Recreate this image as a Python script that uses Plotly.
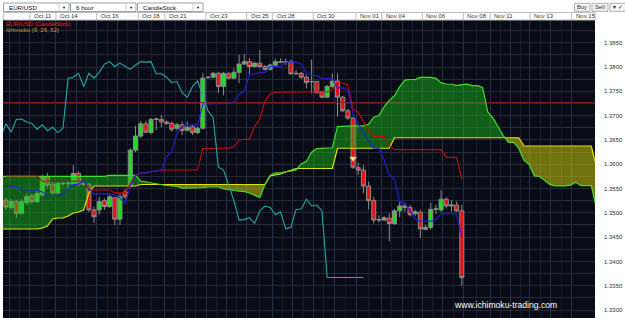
import plotly.graph_objects as go

# ---------------- data ----------------
opens = [1.3526, 1.3511, 1.3523, 1.3499, 1.3521, 1.3535, 1.3523, 1.3537, 1.3574, 1.3559,
         1.3541, 1.3561, 1.3560, 1.3559, 1.3581, 1.3559, 1.3559, 1.3506, 1.3506, 1.3525,
         1.3513, 1.3531, 1.3487, 1.3543, 1.3554, 1.3629, 1.3658, 1.3683, 1.3665, 1.3692,
         1.3692, 1.3687, 1.3684, 1.3674, 1.3681, 1.3670, 1.3677, 1.3665, 1.3674, 1.3778,
         1.3779, 1.3787, 1.3760, 1.3786, 1.3777, 1.3789, 1.3806, 1.3811, 1.3801, 1.3808,
         1.3801, 1.3795, 1.3804, 1.3811, 1.3810, 1.3811, 1.3787, 1.3787, 1.3779, 1.3770,
         1.3770, 1.3749, 1.3738, 1.3760, 1.3771, 1.3738, 1.3710, 1.3695, 1.3593, 1.3588,
         1.3555, 1.3525, 1.3485, 1.3485, 1.3489, 1.3478, 1.3504, 1.3514, 1.3511, 1.3498,
         1.3501, 1.3466, 1.3470, 1.3507, 1.3506, 1.3528, 1.3514, 1.3516, 1.3504]
highs = [1.3531, 1.3528, 1.3526, 1.3528, 1.3539, 1.3539, 1.3547, 1.3578, 1.3582, 1.3564,
         1.3563, 1.3564, 1.3566, 1.3598, 1.3585, 1.3563, 1.3561, 1.3513, 1.3533, 1.3530,
         1.3537, 1.3533, 1.3540, 1.3549, 1.3633, 1.3679, 1.3689, 1.3689, 1.3695, 1.3696,
         1.3701, 1.3690, 1.3688, 1.3685, 1.3688, 1.3688, 1.3681, 1.3677, 1.3788, 1.3780,
         1.3790, 1.3790, 1.3790, 1.3790, 1.3797, 1.3825, 1.3827, 1.3818, 1.3810, 1.3835,
         1.3804, 1.3807, 1.3817, 1.3818, 1.3818, 1.3815, 1.3794, 1.3790, 1.3784, 1.3815,
         1.3772, 1.3751, 1.3763, 1.3787, 1.3787, 1.3740, 1.3714, 1.3697, 1.3603, 1.3598,
         1.3564, 1.3533, 1.3495, 1.3493, 1.3499, 1.3508, 1.3524, 1.3520, 1.3516, 1.3506,
         1.3506, 1.3475, 1.3521, 1.3516, 1.3547, 1.3532, 1.3526, 1.3523, 1.3516]
lows = [1.3506, 1.3506, 1.3489, 1.3496, 1.3516, 1.3518, 1.3520, 1.3533, 1.3553, 1.3537,
        1.3539, 1.3554, 1.3550, 1.3557, 1.3554, 1.3555, 1.3502, 1.3479, 1.3496, 1.3506,
        1.3510, 1.3475, 1.3475, 1.3528, 1.3551, 1.3625, 1.3654, 1.3664, 1.3662, 1.3670,
        1.3676, 1.3681, 1.3667, 1.3670, 1.3660, 1.3667, 1.3660, 1.3662, 1.3672, 1.3776,
        1.3777, 1.3746, 1.3742, 1.3775, 1.3775, 1.3767, 1.3804, 1.3784, 1.3799, 1.3797,
        1.3793, 1.3793, 1.3802, 1.3808, 1.3804, 1.3784, 1.3785, 1.3776, 1.3756, 1.3746,
        1.3745, 1.3736, 1.3736, 1.3757, 1.3698, 1.3707, 1.3691, 1.3590, 1.3578, 1.3540,
        1.3507, 1.3478, 1.3480, 1.3483, 1.3441, 1.3475, 1.3491, 1.3502, 1.3493, 1.3494,
        1.3448, 1.3465, 1.3465, 1.3498, 1.3502, 1.3509, 1.3502, 1.3502, 1.3350]
closes = [1.3512, 1.3523, 1.3499, 1.3523, 1.3533, 1.3523, 1.3540, 1.3574, 1.3557, 1.3541,
          1.3561, 1.3560, 1.3561, 1.3581, 1.3559, 1.3560, 1.3506, 1.3492, 1.3523, 1.3513,
          1.3533, 1.3487, 1.3533, 1.3533, 1.3629, 1.3658, 1.3683, 1.3666, 1.3692, 1.3693,
          1.3687, 1.3684, 1.3672, 1.3681, 1.3669, 1.3676, 1.3665, 1.3674, 1.3777, 1.3779,
          1.3787, 1.3760, 1.3787, 1.3777, 1.3789, 1.3806, 1.3811, 1.3801, 1.3808, 1.3801,
          1.3795, 1.3804, 1.3811, 1.3810, 1.3811, 1.3786, 1.3786, 1.3779, 1.3768, 1.3770,
          1.3747, 1.3738, 1.3760, 1.3771, 1.3738, 1.3710, 1.3695, 1.3594, 1.3588, 1.3555,
          1.3525, 1.3485, 1.3486, 1.3490, 1.3478, 1.3504, 1.3514, 1.3511, 1.3496, 1.3502,
          1.3467, 1.3470, 1.3507, 1.3508, 1.3528, 1.3514, 1.3516, 1.3504, 1.3367]

tenkan = [1.3557, 1.3555, 1.3553, 1.3549, 1.3547, 1.3547, 1.3547, 1.3543, 1.3535, 1.3535,
          1.3535, 1.3539, 1.3549, 1.3558, 1.3559, 1.3566, 1.3550, 1.3539, 1.3539, 1.3539,
          1.3539, 1.3537, 1.3530, 1.3519, 1.3554, 1.3577, 1.3582, 1.3582, 1.3585, 1.3586,
          1.3588, 1.3615, 1.3626, 1.3663, 1.3678, 1.3681, 1.3681, 1.3681, 1.3724, 1.3724,
          1.3725, 1.3725, 1.3725, 1.3725, 1.3729, 1.3744, 1.3750, 1.3785, 1.3785, 1.3789,
          1.3789, 1.3801, 1.3801, 1.3801, 1.3810, 1.3810, 1.3810, 1.3806, 1.3787, 1.3783,
          1.3782, 1.3777, 1.3777, 1.3776, 1.3757, 1.3757, 1.3753, 1.3703, 1.3683, 1.3664,
          1.3647, 1.3633, 1.3633, 1.3609, 1.3578, 1.3569, 1.3522, 1.3520, 1.3503, 1.3487,
          1.3483, 1.3483, 1.3483, 1.3486, 1.3498, 1.3498, 1.3498, 1.3498, 1.3449]
kijun = [1.3576, 1.3576, 1.3576, 1.3576, 1.3576, 1.3576, 1.3576, 1.3565, 1.3565, 1.3565,
         1.3565, 1.3565, 1.3565, 1.3565, 1.3565, 1.3565, 1.3547, 1.3547, 1.3547, 1.3547,
         1.3547, 1.3541, 1.3541, 1.3541, 1.3560, 1.3577, 1.3582, 1.3582, 1.3585, 1.3586,
         1.3588, 1.3588, 1.3588, 1.3588, 1.3588, 1.3588, 1.3588, 1.3588, 1.3632, 1.3632,
         1.3633, 1.3633, 1.3633, 1.3633, 1.3636, 1.3650, 1.3651, 1.3651, 1.3678, 1.3693,
         1.3730, 1.3745, 1.3748, 1.3748, 1.3748, 1.3748, 1.3748, 1.3748, 1.3748, 1.3748,
         1.3748, 1.3748, 1.3749, 1.3754, 1.3767, 1.3767, 1.3763, 1.3713, 1.3707, 1.3688,
         1.3671, 1.3657, 1.3657, 1.3657, 1.3638, 1.3630, 1.3630, 1.3630, 1.3630, 1.3630,
         1.3630, 1.3630, 1.3630, 1.3630, 1.3630, 1.3614, 1.3614, 1.3614, 1.3569]

# Senkou spans, positions -1 .. 114 (already displaced 26 periods ahead)
senkou_a = [1.3575, 1.3575, 1.3575, 1.3575, 1.3575, 1.3575, 1.3575, 1.3575, 1.3575, 1.3575,
            1.3575, 1.3575, 1.3575, 1.3575, 1.3575, 1.3575, 1.3575, 1.3575, 1.3575, 1.3575,
            1.3575, 1.3577, 1.3577, 1.3577, 1.3577, 1.3577, 1.3577,
            1.35655, 1.35634, 1.35613, 1.35593, 1.35572, 1.35562, 1.35552, 1.35541, 1.3551, 1.3551,
            1.3551, 1.3551, 1.3552, 1.35531, 1.35531, 1.35531, 1.3549, 1.35469, 1.35459, 1.35448,
            1.35438, 1.35407, 1.35366, 1.35315, 1.35581, 1.3577, 1.3582, 1.3582, 1.3585, 1.35856,
            1.35881, 1.36005, 1.36062, 1.36247, 1.36319, 1.36334, 1.36334, 1.36334, 1.36776, 1.3678,
            1.3679, 1.3679, 1.3679, 1.3679, 1.36823, 1.36968, 1.37003, 1.37178, 1.37313, 1.37408,
            1.37593, 1.3773, 1.37743, 1.37743, 1.37785, 1.37785, 1.37785, 1.37765, 1.37673, 1.3765,
            1.37645, 1.37623, 1.3763, 1.37648, 1.37618, 1.37618, 1.3758, 1.37078, 1.36948, 1.36758,
            1.3659, 1.36448, 1.36448, 1.3633, 1.36078, 1.35995, 1.3576, 1.35748, 1.35663, 1.35585,
            1.35553, 1.35553, 1.35553, 1.3557, 1.35628, 1.35558, 1.35558, 1.35558, 1.35088]
senkou_b = [1.34667, 1.34667, 1.34667, 1.34667, 1.34667, 1.34667, 1.34667, 1.34667, 1.34688, 1.34729,
            1.34873, 1.34893, 1.34893, 1.34935, 1.34996, 1.35017, 1.35058, 1.35408,
            1.35552, 1.35552, 1.35552, 1.35552, 1.35552, 1.35552, 1.35552, 1.35552, 1.35552,
            1.35583, 1.35583, 1.35583, 1.35583, 1.35583, 1.35583, 1.35583, 1.35583, 1.35583, 1.35583,
            1.35583, 1.35583, 1.35583, 1.35583, 1.35583, 1.35583, 1.35583, 1.35583, 1.35583, 1.35583,
            1.35583, 1.35583, 1.35583, 1.35583, 1.35583,
            1.35758, 1.35778, 1.35799, 1.3584, 1.35881,
            1.35912, 1.35912, 1.35912, 1.35912, 1.35912, 1.35912, 1.35912, 1.35912,
            1.36328, 1.36328, 1.36328, 1.36328, 1.36328, 1.36328, 1.36328, 1.36328, 1.36328, 1.36328,
            1.36328,
            1.36544, 1.36544, 1.36544, 1.36544, 1.36544, 1.36544, 1.36544, 1.36544, 1.36544, 1.36544,
            1.36544, 1.36544, 1.36544, 1.36544, 1.36544, 1.36544, 1.36544, 1.36544, 1.36544, 1.36544,
            1.36544, 1.36544, 1.36544, 1.36544, 1.36544,
            1.36375, 1.36375, 1.36375, 1.36375, 1.36375, 1.36375, 1.36375, 1.36375, 1.36375, 1.36375,
            1.36375, 1.36375, 1.36375, 1.36375, 1.35943]

chikou_tail = [1.3367, 1.3367, 1.3367, 1.3367, 1.3367, 1.3367, 1.3367]  # drawn after the last lagging point
level_line = 1.3727
signal_bar = 67
signal_price = 1.3612

date_labels = ["Oct 11", "Oct 14", "Oct 16", "Oct 18", "Oct 21", "Oct 23", "Oct 25", "Oct 28",
               "Oct 30", "Nov 01", "Nov 04", "Nov 06", "Nov 08", "Nov 11", "Nov 13", "Nov 15"]
date_ticks = [4.63, 9.65, 17.51, 25.54, 30.69, 38.61, 46.47, 51.49,
              59.32, 67.57, 72.53, 80.37, 88.28, 93.44, 101.16, 109.2]
day_lines = [0.6, 13.58, 21.52, 34.65, 42.54, 55.4, 63.45, 76.45, 84.32, 97.3, 105.18]

# ---------------- figure ----------------
N = len(closes)
bars = list(range(N))
SHIFT = 26
cloud_x = list(range(-1, -1 + len(senkou_a)))

PL, PR, PT, PB = 3, 595, 20, 318
def PX(px):
    return (px - PL) / (PR - PL)
def PY(py):
    return (PB - py) / (PB - PT)

FONT = "Liberation Sans, Arial, sans-serif"
fig = go.Figure()

fig.add_trace(go.Scatter(x=[-2, 120], y=[level_line, level_line], mode="lines",
                         line=dict(color="#8a1c1c", width=1), hoverinfo="skip"))

fig.add_trace(go.Candlestick(
    x=bars, open=opens, high=highs, low=lows, close=closes,
    increasing=dict(line=dict(color="#8c8c8c", width=1), fillcolor="#18e018"),
    decreasing=dict(line=dict(color="#8c8c8c", width=1), fillcolor="#e81010"),
    whiskerwidth=0, hoverinfo="skip"))

# cloud fill (green where A above B, yellow where B above A)
X, A2, B2 = [], [], []
for k in range(len(cloud_x)):
    if k > 0:
        d0 = senkou_a[k - 1] - senkou_b[k - 1]
        d1 = senkou_a[k] - senkou_b[k]
        if d0 * d1 < 0:
            t = d0 / (d0 - d1)
            xc = cloud_x[k - 1] + t * (cloud_x[k] - cloud_x[k - 1])
            yc = senkou_a[k - 1] + t * (senkou_a[k] - senkou_a[k - 1])
            X.append(xc); A2.append(yc); B2.append(yc)
    X.append(cloud_x[k]); A2.append(senkou_a[k]); B2.append(senkou_b[k])
UP = [max(p, q) for p, q in zip(A2, B2)]

fig.add_trace(go.Scatter(x=X, y=B2, mode="lines", line=dict(width=0), hoverinfo="skip"))
fig.add_trace(go.Scatter(x=X, y=UP, mode="lines", line=dict(width=0), fill="tonexty",
                         fillcolor="rgba(28,196,28,0.45)", hoverinfo="skip"))
fig.add_trace(go.Scatter(x=X, y=A2, mode="lines", line=dict(width=0), hoverinfo="skip"))
fig.add_trace(go.Scatter(x=X, y=UP, mode="lines", line=dict(width=0), fill="tonexty",
                         fillcolor="rgba(215,215,8,0.50)", hoverinfo="skip"))

fig.add_trace(go.Scatter(x=cloud_x, y=senkou_b, mode="lines",
                         line=dict(color="#e2e200", width=1.2), hoverinfo="skip"))
fig.add_trace(go.Scatter(x=cloud_x, y=senkou_a, mode="lines",
                         line=dict(color="#3ee02a", width=1.2), hoverinfo="skip"))

fig.add_trace(go.Scatter(x=bars, y=kijun, mode="lines",
                         line=dict(color="#c80808", width=1.1), hoverinfo="skip"))
fig.add_trace(go.Scatter(x=bars, y=tenkan, mode="lines",
                         line=dict(color="#1f22d8", width=1.1), hoverinfo="skip"))

chik_x = [i - SHIFT for i in bars if i - SHIFT >= -1]
chik_y = [closes[i] for i in bars if i - SHIFT >= -1]
tail_x = [chik_x[-1] + 1 + k for k in range(len(chikou_tail))]
fig.add_trace(go.Scatter(x=chik_x + tail_x, y=chik_y + chikou_tail, mode="lines",
                         line=dict(color="#22a8a8", width=1.1), hoverinfo="skip"))

fig.add_trace(go.Scatter(x=[signal_bar], y=[signal_price], mode="markers",
                         marker=dict(symbol="triangle-down", size=6, color="#ffe2a8",
                                     line=dict(color="#e0a050", width=0.5)),
                         hoverinfo="skip"))

shapes = []
annotations = []

# header: x-label row
shapes.append(dict(type="rect", xref="paper", yref="paper", x0=PX(3.3), x1=PX(595),
                   y0=PY(20), y1=PY(12.5), fillcolor="#ffffff",
                   line=dict(color="#bcbcbc", width=1), layer="above"))
for pos, lab in zip(date_ticks, date_labels):
    shapes.append(dict(type="line", xref="x", yref="paper", x0=pos, x1=pos,
                       y0=PY(20), y1=PY(12.5), line=dict(color="#bcbcbc", width=1)))
    annotations.append(dict(x=pos, xref="x", y=PY(16.4), yref="paper", text=lab,
                            showarrow=False, xanchor="left", yanchor="middle", xshift=2,
                            font=dict(family=FONT, size=6, color="#333333")))

# header: dropdowns
for (x0, x1, txt) in [(3.5, 69, "EUR/USD"), (70.5, 136, "6 hour"), (137.5, 203, "CandleStick")]:
    shapes.append(dict(type="rect", xref="paper", yref="paper", x0=PX(x0), x1=PX(x1),
                       y0=PY(11.5), y1=PY(3), fillcolor="#ffffff",
                       line=dict(color="#a0a0a0", width=1)))
    shapes.append(dict(type="line", xref="paper", yref="paper", x0=PX(x1 - 10), x1=PX(x1 - 10),
                       y0=PY(11.5), y1=PY(3), line=dict(color="#d0d0d0", width=1)))
    annotations.append(dict(x=PX(x0 + 3), xref="paper", y=PY(7.3), yref="paper", text=txt,
                            showarrow=False, xanchor="left", yanchor="middle",
                            font=dict(family=FONT, size=6.2, color="#111111")))
    annotations.append(dict(x=PX(x1 - 5), xref="paper", y=PY(7.3), yref="paper", text="▼",
                            showarrow=False, xanchor="center", yanchor="middle",
                            font=dict(family=FONT, size=4, color="#111111")))

# header: buttons
for (x0, x1, txt) in [(574.5, 590, "Buy"), (592, 608, "Sell"), (610, 626, "▾ ✓")]:
    shapes.append(dict(type="rect", xref="paper", yref="paper", x0=PX(x0), x1=PX(x1),
                       y0=PY(11.3), y1=PY(3.3), fillcolor="#f4f4f4",
                       line=dict(color="#b0b0b0", width=1)))
    annotations.append(dict(x=PX((x0 + x1) / 2), xref="paper", y=PY(7.3), yref="paper", text=txt,
                            showarrow=False, xanchor="center", yanchor="middle",
                            font=dict(family=FONT, size=5.8, color="#333333")))

# in-plot legend texts
annotations.append(dict(x=PX(4), xref="paper", y=PY(24.3), yref="paper",
                        text="EUR/USD (CandleStick)", showarrow=False, xanchor="left",
                        yanchor="middle", font=dict(family=FONT, size=6, color="#ff2020")))
annotations.append(dict(x=PX(4), xref="paper", y=PY(30.3), yref="paper",
                        text="Ichimoku (9, 26, 52)", showarrow=False, xanchor="left",
                        yanchor="middle", font=dict(family=FONT, size=6, color="#d09a22")))
# watermark
annotations.append(dict(x=PX(451.5), xref="paper", y=PY(305), yref="paper",
                        text="www.ichimoku-trading.com", showarrow=False, xanchor="left",
                        yanchor="middle", font=dict(family=FONT, size=8.6, color="#ffffff")))

half_lines = sorted(date_ticks + day_lines)
minor_lines = [(half_lines[k] + half_lines[k + 1]) / 2 for k in range(len(half_lines) - 1)]

fig.update_layout(
    width=625, height=318,
    margin=dict(l=PL, r=625 - PR, t=PT, b=0),
    paper_bgcolor="#ffffff", plot_bgcolor="#090c16",
    showlegend=False, boxgap=0.22, boxgroupgap=0.0,
    shapes=shapes, annotations=annotations,
    xaxis=dict(range=[-0.58, 113.71], rangeslider=dict(visible=False),
               showticklabels=False, tickmode="array", tickvals=date_ticks + day_lines,
               showgrid=True, gridcolor="#283043", gridwidth=1, zeroline=False,
               showline=False, ticks="",
               minor=dict(tickmode="array", tickvals=minor_lines, showgrid=True,
                          gridcolor="#171c29", gridwidth=1)),
    yaxis=dict(range=[1.32836, 1.38967], side="right", tick0=1.33, dtick=0.005,
               tickformat=".4f", showgrid=True, gridcolor="#232938", gridwidth=1,
               minor=dict(dtick=0.0025, tick0=1.33, showgrid=True, gridcolor="#232938"),
               tickfont=dict(family=FONT, size=6, color="#333333"), ticks="",
               ticklabelstandoff=8, zeroline=False, showline=False),
)

fig.write_html("out.html")
